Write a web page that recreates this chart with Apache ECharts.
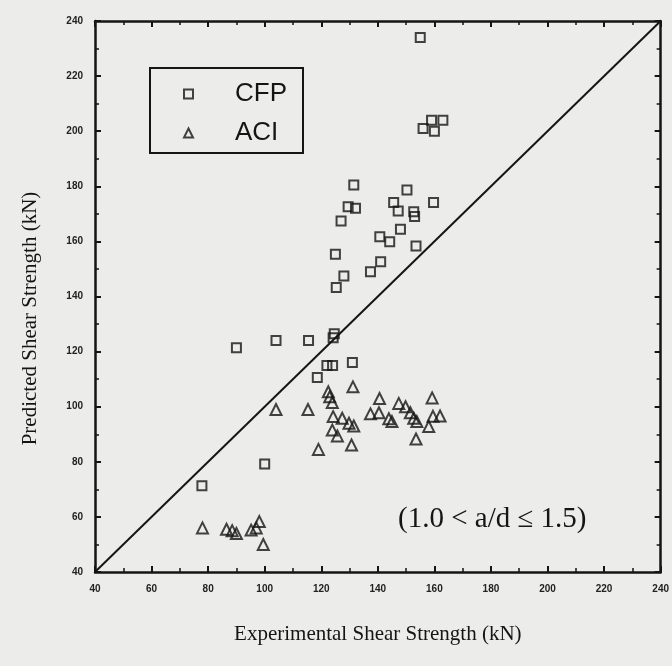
<!DOCTYPE html>
<html>
<head>
<meta charset="utf-8">
<script src="https://cdn.jsdelivr.net/npm/echarts@6/dist/echarts.min.js"></script>
<style>
html, body { margin: 0; padding: 0; background: #ececea; }
#chart { width: 672px; height: 666px; }
</style>
</head>
<body>
<div id="chart"></div>
<script>
// CFP predictions [experimental, predicted] (kN)
var cfpData = [
    [155, 234], [156, 201], [160, 200], [159, 204], [163, 204],
    [131.5, 180.5], [150.3, 178.7], [129.5, 172.6], [132.1, 172], [127, 167.4],
    [145.6, 174.1], [147.2, 171], [152.7, 170.8], [153, 169], [159.7, 174.1],
    [148, 164.4], [140.7, 161.7], [144.2, 159.9], [153.5, 158.3], [125, 155.3],
    [141, 152.6], [137.4, 149], [128, 147.4], [125.3, 143.3],
    [90, 121.4], [104, 124], [115.5, 124], [124.2, 125], [124.6, 126.5],
    [122, 115], [124, 115], [131, 116], [118.6, 110.6],
    [100, 79.2], [77.8, 71.3]
];
// ACI predictions
var aciData = [
    [78, 56], [86.5, 55.5], [88.5, 55], [90, 54], [95.2, 55.2], [97, 56], [98.1, 58.3], [99.5, 50],
    [104, 99], [115.3, 99], [119, 84.5],
    [122.5, 105.4], [123, 103.6], [123.9, 101.5], [124.2, 96.4], [127.4, 95.8], [129.8, 94],
    [131.5, 93], [123.9, 91.5], [125.7, 89.4], [130.7, 86.1], [131.2, 107.2],
    [140.6, 103], [137.4, 97.4], [140.4, 97.8], [143.9, 95.6], [145, 94.6], [147.4, 101.2],
    [149.8, 100], [151.5, 97.8], [152.7, 95.8], [153.8, 94.6], [153.5, 88.3], [158, 92.8],
    [159.2, 103.2], [159.5, 96.5], [162, 96.6]
];
// line of equality
var equalLine = [[40, 40], [240, 240]];
var axisMin = 40, axisMax = 240, axisStep = 20;

var ink = '#151515';

function makeAxis(pos, withLabel, name, gap, namePad) {
    return {
        type: 'value',
        position: pos,
        min: axisMin,
        max: axisMax,
        interval: axisStep,
        name: withLabel ? name : '',
        nameLocation: 'middle',
        nameGap: gap,
        nameTextStyle: { fontFamily: 'Liberation Serif', fontSize: 21, color: ink, padding: namePad || 0 },
        axisLine: { show: true, onZero: false, lineStyle: { color: ink, width: 2.5 } },
        axisTick: { show: true, inside: true, length: 6, lineStyle: { color: ink, width: 2 } },
        minorTick: { show: true, splitNumber: 2, length: 4, lineStyle: { color: ink, width: 1.5 } },
        axisLabel: {
            show: withLabel, fontFamily: 'Liberation Sans', fontSize: 10,
            fontWeight: 'bold', color: '#222', margin: 12
        },
        splitLine: { show: false }
    };
}

var chart = echarts.init(document.getElementById('chart'));
var option = {
    animation: false,
    backgroundColor: '#ececea',
    grid: { left: 95, right: 9, top: 21, bottom: 94 },
    xAxis: [
        makeAxis('bottom', true, 'Experimental Shear Strength (kN)', 52, [0, 0, 0, 0]),
        makeAxis('top', false, '', 0)
    ],
    yAxis: [
        makeAxis('left', true, 'Predicted Shear Strength (kN)', 54, [0, 44, 0, 0]),
        makeAxis('right', false, '', 0)
    ],
    legend: {
        data: [{ name: 'CFP', icon: 'rect' }, { name: 'ACI', icon: 'triangle' }],
        orient: 'vertical',
        left: 150,
        top: 68,
        borderColor: ink,
        borderWidth: 2,
        padding: [13, 16, 7, 33],
        itemGap: 13,
        itemWidth: 9,
        itemHeight: 9,
        textStyle: { fontFamily: 'Liberation Sans', fontSize: 26, color: ink, padding: [0, 0, 0, 37] }
    },
    graphic: [{
        type: 'text',
        left: 398,
        top: 505,
        style: { text: '(1.0 < a/d \u2264 1.5)', fontFamily: 'Liberation Serif', fontSize: 29, fill: ink }
    }],
    series: [
        {
            name: 'CFP',
            type: 'scatter',
            symbol: 'rect',
            symbolSize: 9,
            itemStyle: { color: 'rgba(0,0,0,0)', borderColor: ink, borderWidth: 2 },
            data: cfpData
        },
        {
            name: 'ACI',
            type: 'scatter',
            symbol: 'triangle',
            symbolSize: 11,
            itemStyle: { color: 'rgba(0,0,0,0)', borderColor: ink, borderWidth: 2 },
            data: aciData
        },
        {
            name: 'equality',
            type: 'line',
            symbol: 'none',
            silent: true,
            lineStyle: { color: ink, width: 2 },
            data: equalLine
        }
    ]
};
chart.setOption(option);
</script>
</body>
</html>
